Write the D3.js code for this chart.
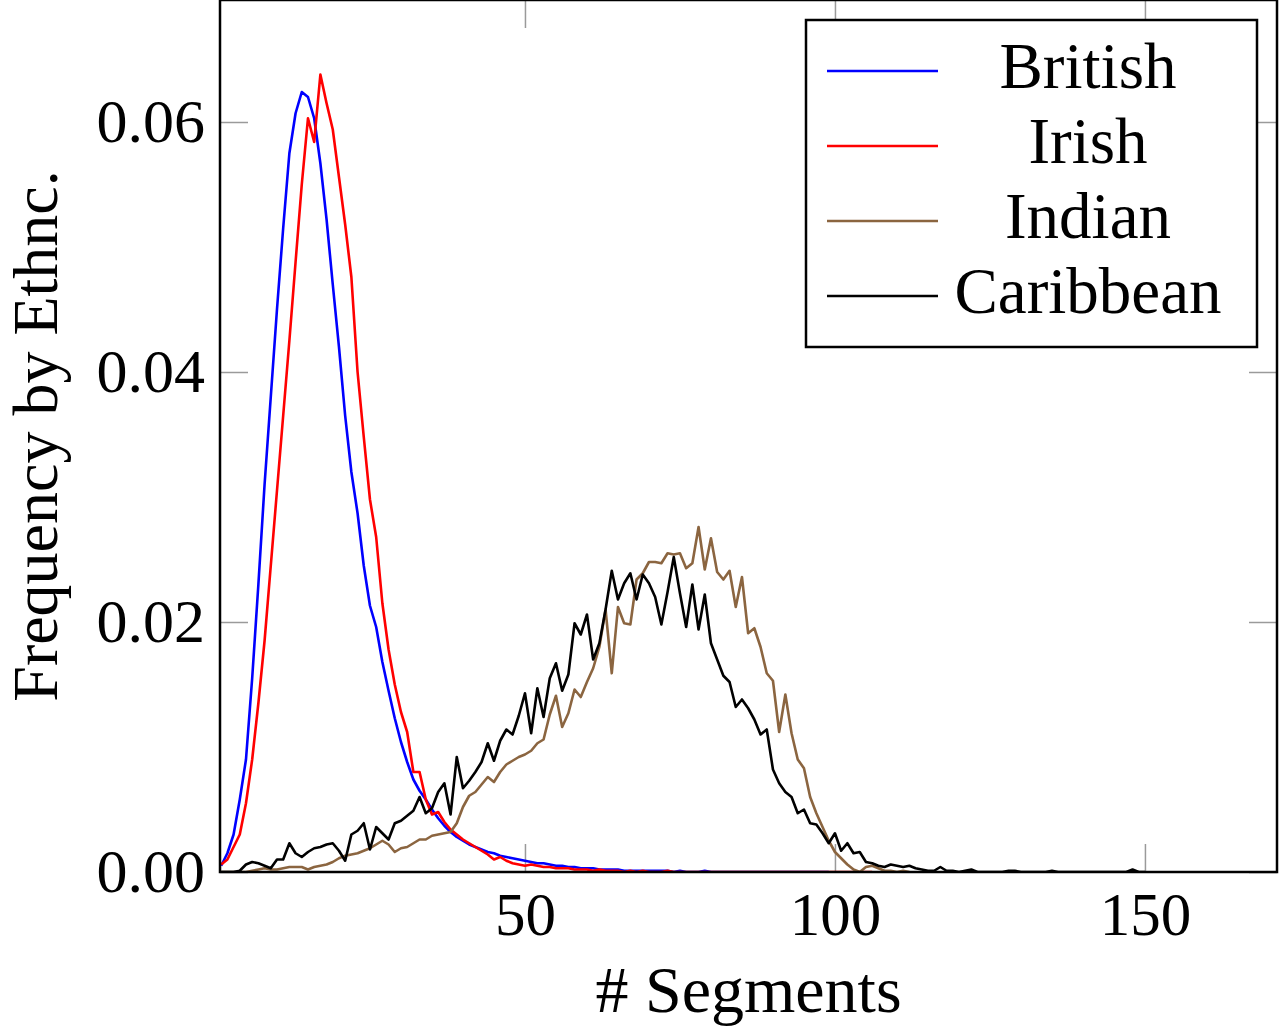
<!DOCTYPE html>
<html>
<head>
<meta charset="utf-8">
<script src="https://cdn.jsdelivr.net/npm/d3@7"></script>
<style>
body { margin: 0; background: #fff; }
svg text { font-family: "Liberation Serif", "DejaVu Serif", serif; fill: #000; }
</style>
</head>
<body>
<svg id="chart" width="1280" height="1026"></svg>
<script>
// frequency per number of segments, bin 1 is the first value
var british = [.0005,.0015,.003,.0058,.009,.0155,.023,.031,.038,.045,
	.0515,.0575,.0607,.0624,.062,.0603,.0567,.0522,.047,.042,
	.0365,.032,.0287,.0245,.0213,.0196,.0168,.0145,.0123,.0104,
	.0088,.0074,.0065,.0058,.005,.0043,.0037,.0032,.0028,.0025,
	.0022,.002,.0018,.0016,.0015,.0013,.0012,.0011,.001,.0009,
	.0008,.0007,.0007,.0006,.0005,.0005,.0004,.0004,.0003,.0003,
	.0003,.0002,.0002,.0002,.0002,.0001,.0001,.0001,.0001,.0001,
	.0001,.0001,.0001,0,.0001,0,0,0,.0001,0,
	0,0,0,0,0,0,0,0,0,0,
	0,0,0,0,0,0,0,0,0];

var irish = [.0006,.001,.002,.003,.0055,.009,.0135,.0185,.0245,.0305,
	.0365,.0425,.0488,.055,.0603,.0584,.0638,.0615,.0594,.0556,
	.0518,.0476,.040,.0348,.0298,.0268,.0215,.0178,.015,.0128,
	.0112,.008,.008,.0058,.0046,.0048,.004,.0034,.003,.0026,
	.0023,.002,.0017,.0014,.001,.0012,.0009,.0007,.0006,.0005,
	.0006,.0005,.0004,.0004,.0003,.0003,.0003,.0002,.0002,.0002,
	.0001,.0002,.0001,.0001,.0001,0,.0001,0,.0001,0,
	0,0,.0001,0,0,0,0,0,0,0,
	0,0,0,0,0,0,0,0,0,0,
	0,0,0,0,0,0,0,0,0,0,
	0,0,0,0,0,0];

var indian = [0,0,0,0,0,.0001,.0002,.0003,.0002,.0002,
	.0003,.0004,.0004,.0004,.0002,.0004,.0005,.0006,.0008,.0011,
	.0013,.0014,.0015,.0017,.0019,.0022,.0025,.0022,.0016,.0019,
	.002,.0023,.0026,.0026,.0029,.003,.0031,.0032,.0039,.0052,
	.0061,.0064,.007,.0076,.0072,.008,.0086,.0089,.0092,.0094,
	.0097,.0103,.0106,.0126,.0141,.0116,.0127,.0146,.014,.0152,
	.0163,.018,.021,.0159,.0212,.0199,.0198,.0234,.0239,.0248,
	.0248,.0247,.0255,.0254,.0255,.0243,.0247,.0276,.0242,.0267,
	.024,.0234,.0241,.0212,.0236,.0191,.0195,.018,.0159,.0153,
	.0112,.0142,.0111,.009,.0083,.006,.0047,.0036,.0025,.0016,
	.0011,.0006,.0002,0,.0004,.0005,.0003,.0001,.0001,0,
	.0001,0];

var caribbean = [0,0,0,.0001,.0006,.0008,.0007,.0005,.0003,.001,
	.001,.0023,.0015,.0012,.0016,.0019,.002,.0022,.0023,.0017,
	.0009,.003,.0033,.0039,.0018,.0036,.0031,.0026,.0039,.0041,
	.0045,.0049,.006,.0047,.0051,.0064,.0071,.0046,.0092,.0067,
	.0073,.008,.0088,.0103,.0089,.0105,.0114,.011,.0125,.0143,
	.0111,.0147,.0124,.0155,.0167,.0145,.0158,.0199,.019,.0206,
	.017,.0183,.021,.0241,.0218,.0231,.0239,.0218,.0238,.0231,
	.022,.0198,.0224,.0252,.0223,.0196,.023,.0194,.0222,.0183,
	.017,.0157,.0152,.0132,.0138,.0131,.0122,.011,.0114,.0082,
	.0071,.0064,.006,.0047,.005,.0039,.0038,.0031,.0023,.0031,
	.0017,.0023,.0015,.0016,.0008,.0007,.0005,.0004,.0006,.0005,
	.0004,.0005,.0003,.0002,.0001,.0001,.0004,.0001,.0001,0,
	.0001,.0002,0,0,0,0,0,.0001,.0001,0,
	0,0,0,0,.0001,0,0,0,0,0,
	0,0,0,0,0,0,0,.0002,0,0];

var names = ["British", "Irish", "Indian", "Caribbean"];
var colors = ["#0000ff", "#ff0000", "#8b6540", "#000000"];
var xTicks = [50, 100, 150];
var yTicks = [0, 0.02, 0.04, 0.06];

var seriesList = [british, irish, indian, caribbean];

gen_vis();

function gen_vis(){

	var pLeft = 220, pRight = 1277, pTop = 0, pBottom = 872;

	var xscale = d3.scaleLinear()
					.domain([0.81, 171.3])
					.range([pLeft, pRight]);

	var yscale = d3.scaleLinear()
					.domain([0, 0.06976])
					.range([pBottom, pTop]);

	var svg = d3.select("#chart");

	svg.append("defs").append("clipPath")
		.attr("id", "plotclip")
		.append("rect")
			.attr("x", pLeft)
			.attr("y", pTop)
			.attr("width", pRight - pLeft)
			.attr("height", pBottom - pTop);

	// ticks, pointing inward on all four sides
	var xaxis = d3.axisBottom(xscale).tickValues(xTicks).tickSize(-28).tickFormat(d3.format("d"));
	var xaxis2 = d3.axisTop(xscale).tickValues(xTicks).tickSize(-28).tickFormat("");
	var yaxis = d3.axisLeft(yscale).tickValues(yTicks).tickSize(-28).tickFormat(d3.format(".2f"));
	var yaxis2 = d3.axisRight(yscale).tickValues(yTicks).tickSize(-28).tickFormat("");

	var gx = svg.append("g").attr("transform", "translate(0," + pBottom + ")").call(xaxis);
	var gx2 = svg.append("g").attr("transform", "translate(0," + pTop + ")").call(xaxis2);
	var gy = svg.append("g").attr("transform", "translate(" + pLeft + ",0)").call(yaxis);
	var gy2 = svg.append("g").attr("transform", "translate(" + pRight + ",0)").call(yaxis2);

	[gx, gx2, gy, gy2].forEach(function(g){
		g.select(".domain").remove();
		g.selectAll(".tick line").attr("stroke", "#9a9a9a").attr("stroke-width", 1.5);
		g.attr("font-size", null).attr("font-family", null);
	});

	gx.selectAll(".tick text")
		.attr("y", 63)
		.attr("dy", 0)
		.style("font-size", "61px");

	gy.selectAll(".tick text")
		.attr("x", -15)
		.attr("dy", "0.32em")
		.style("font-size", "62px");

	// data lines
	var line = d3.line()
				.x(function(d, i){ return xscale(i + 1); })
				.y(function(d){ return yscale(d); });

	svg.append("g")
		.attr("clip-path", "url(#plotclip)")
		.selectAll("path")
		.data(seriesList)
		.enter().append("path")
			.attr("d", function(d){ return line(d); })
			.attr("fill", "none")
			.attr("stroke", function(d, i){ return colors[i]; })
			.attr("stroke-width", 2.6)
			.attr("stroke-linejoin", "round");

	// frame
	svg.append("rect")
		.attr("x", pLeft)
		.attr("y", pTop)
		.attr("width", pRight - pLeft)
		.attr("height", pBottom - pTop)
		.attr("fill", "none")
		.attr("stroke", "#000")
		.attr("stroke-width", 2.5);

	// legend
	var legend = svg.append("g");
	legend.append("rect")
		.attr("x", 806)
		.attr("y", 20)
		.attr("width", 451)
		.attr("height", 327)
		.attr("fill", "#fff")
		.attr("stroke", "#000")
		.attr("stroke-width", 2.5);

	var entry = legend.selectAll("g.entry")
		.data(names)
		.enter().append("g")
			.attr("class", "entry")
			.attr("transform", function(d, i){ return "translate(0," + (71 + i * 75) + ")"; });

	entry.append("line")
		.attr("x1", 827)
		.attr("x2", 938)
		.attr("stroke", function(d, i){ return colors[i]; })
		.attr("stroke-width", 2.6);

	entry.append("text")
		.attr("x", 1088)
		.attr("y", 17)
		.attr("text-anchor", "middle")
		.style("font-size", "65px")
		.text(function(d){ return d; });

	// axis labels
	svg.append("text")
		.attr("x", (pLeft + pRight) / 2)
		.attr("y", 1012)
		.attr("text-anchor", "middle")
		.style("font-size", "66px")
		.text("# Segments");

	svg.append("text")
		.attr("transform", "translate(57," + (pTop + pBottom) / 2 + ") rotate(-90)")
		.attr("text-anchor", "middle")
		.style("font-size", "64px")
		.text("Frequency by Ethnc.");
}
</script>
</body>
</html>
